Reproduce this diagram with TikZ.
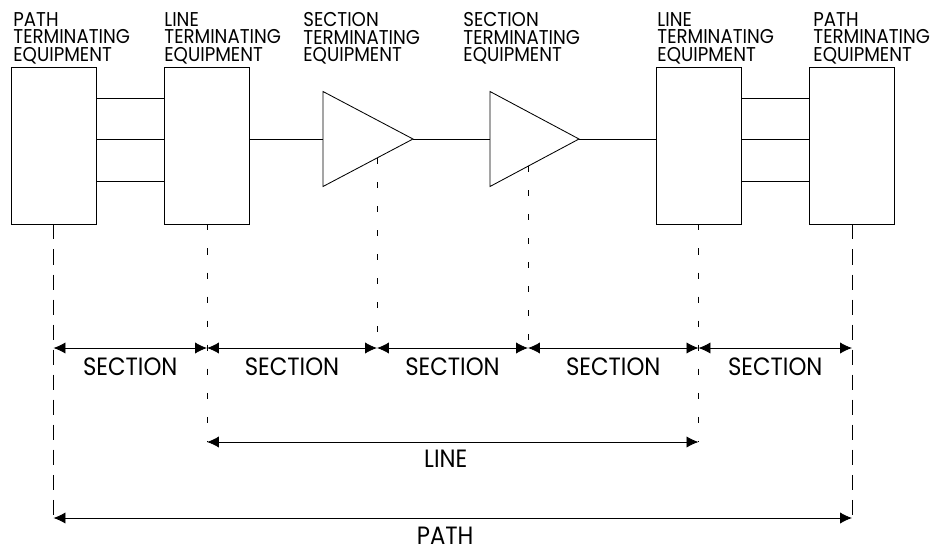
\documentclass[tikz,border=0pt]{standalone}
\usepackage{fontspec}
\setmainfont{Poppins}[FakeStretch=0.91]
\usetikzlibrary{arrows.meta}

\newcommand*{\ysec}{348}
\newcommand*{\yline}{442}
\newcommand*{\ypath}{518}

\begin{document}
\begin{tikzpicture}
[
	x=0.025cm, y=-0.025cm,
	line width=0.6pt,
	>={Latex[length=8.5pt,width=8pt]},
	unit/.style={draw,rectangle,inner sep=0pt,minimum width=2.125cm,minimum height=3.925cm},
	toplabel/.style={anchor=north west,inner sep=0pt,align=left,font=\fontsize{14.2}{12.5}\selectfont},
	spanlabel/.style={anchor=north,inner sep=0pt,font=\fontsize{17.8}{20}\selectfont},
	longdash/.style={dash pattern=on 10.7pt off 7.1pt},
	shortdash/.style={dash pattern=on 4.3pt off 12.8pt}
]
	\useasboundingbox (0,0) rectangle (933,552);

	% terminating units
	\node[unit] at (53.5,145.5) (pte1) {};
	\node[unit] at (207,145.5) (lte1) {};
	\node[unit] at (698.5,145.5) (lte2) {};
	\node[unit] at (852,145.5) (pte2) {};

	% section terminating triangles
	\coordinate (ste1) at (323,139);
	\coordinate (ste1tip) at (413,139);
	\draw (ste1) -- ++(0,-47.5) -- (ste1tip) -- ++(-90,47.5) -- cycle;
	\coordinate (ste2) at (490,139);
	\coordinate (ste2tip) at (579,139);
	\draw (ste2) -- ++(0,-47.5) -- (ste2tip) -- ++(-89,47.5) -- cycle;

	% labels on top
	\node[toplabel] at (13,12) (pte1lab) {PATH\\TERMINATING\\EQUIPMENT};
	\node[toplabel] at (164,12) (lte1lab) {LINE\\TERMINATING\\EQUIPMENT};
	\node[toplabel] at (303,12) (ste1lab) {SECTION\\TERMINATING\\EQUIPMENT};
	\node[toplabel] at (463,12) (ste2lab) {SECTION\\TERMINATING\\EQUIPMENT};
	\node[toplabel] at (657,12) (lte2lab) {LINE\\TERMINATING\\EQUIPMENT};
	\node[toplabel] at (813,12) (pte2lab) {PATH\\TERMINATING\\EQUIPMENT};

	% links
	\foreach \y in {98,139,181} {
		\draw (pte1.east |- 0,\y) -- (lte1.west |- 0,\y);
		\draw (lte2.east |- 0,\y) -- (pte2.west |- 0,\y);
	}
	\draw (lte1.east |- ste1) -- (ste1);
	\draw (ste1tip) -- (ste2);
	\draw (ste2tip) -- (lte2.west |- ste2tip);

	% guide ends
	\coordinate (p1bot) at (pte1.south |- 0,\ypath);
	\coordinate (p2bot) at (pte2.south |- 0,\ypath);
	\coordinate (l1bot) at (lte1.south |- 0,\yline);
	\coordinate (l2bot) at (lte2.south |- 0,\yline);
	\coordinate (p1sec) at (pte1.south |- 0,\ysec);
	\coordinate (l1sec) at (lte1.south |- 0,\ysec);
	\coordinate (s1sec) at (377,\ysec);
	\coordinate (s2sec) at (528,\ysec);
	\coordinate (l2sec) at (lte2.south |- 0,\ysec);
	\coordinate (p2sec) at (pte2.south |- 0,\ysec);
	\coordinate (s1foot) at (377,158);
	\coordinate (s2foot) at (528,166);

	% dashed guides
	\draw[longdash] (pte1.south) -- (p1bot);
	\draw[longdash] (pte2.south) -- (p2bot);
	\draw[shortdash] (lte1.south) -- (l1bot);
	\draw[shortdash] (lte2.south) -- (l2bot);
	\draw[shortdash] (s1foot) -- (s1sec);
	\draw[shortdash] (s2foot) -- (s2sec);

	% spans
	\foreach \a/\b in {p1sec/l1sec,l1sec/s1sec,s1sec/s2sec,s2sec/l2sec,l2sec/p2sec} {
		\draw[<->] (\a) -- (\b) node[midway,spanlabel,yshift=-0.24cm] {SECTION};
	}
	\draw[<->] (l1bot) -- (l2bot) node[midway,spanlabel,yshift=-0.18cm,xshift=-0.175cm] {LINE};
	\draw[<->] (p1bot) -- (p2bot) node[midway,spanlabel,yshift=-0.225cm,xshift=-0.19cm] {PATH};

\end{tikzpicture}
\end{document}
